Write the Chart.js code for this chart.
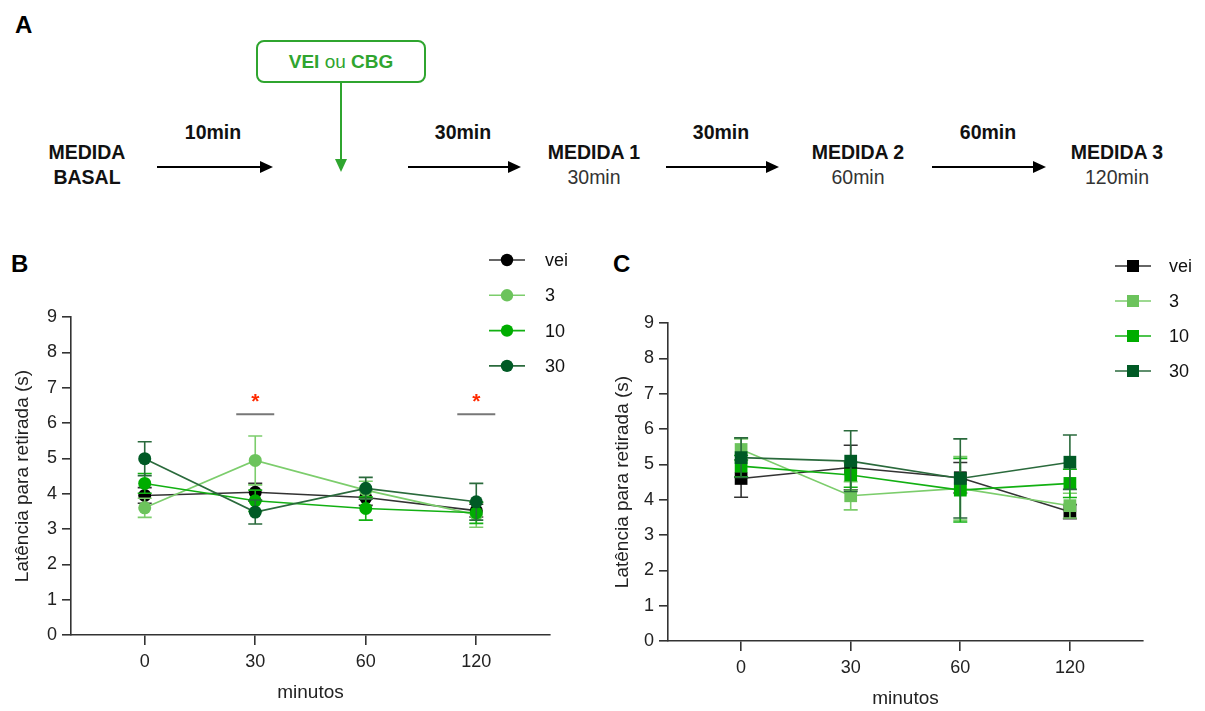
<!DOCTYPE html>
<html>
<head>
<meta charset="utf-8">
<script src="https://cdn.jsdelivr.net/npm/chart.js@4.4.0/dist/chart.umd.min.js"></script>
<style>
  body { margin: 0; background: #fff; width: 1205px; height: 711px; overflow: hidden; position: relative; font-family: "Liberation Sans", Arial, sans-serif; }
  #panelA { position: absolute; left: 0; top: 0; }
  .wrap { position: absolute; height: 471px; }
  #wrapB { left: 0; top: 240px; width: 600px; }
  #wrapC { left: 600px; top: 246px; width: 605px; }
  .letter { position: absolute; font-weight: bold; font-size: 24px; line-height: 24px; color: #000; }
</style>
</head>
<body>

<svg id="panelA" width="1205" height="230" font-family="Liberation Sans, Arial, sans-serif" font-size="19.5">
  <text x="15" y="33" font-size="24" font-weight="bold">A</text>
  <rect x="257" y="41" width="168" height="41" rx="7" fill="#fff" stroke="#2fa52f" stroke-width="2"/>
  <text x="341" y="68" text-anchor="middle" fill="#2fa52f" font-weight="bold" font-size="19">VEI <tspan font-weight="normal">ou</tspan> CBG</text>
  <line x1="341" y1="82" x2="341" y2="160" stroke="#2fa52f" stroke-width="2"/>
  <polygon points="335,159 347,159 341,172" fill="#2fa52f"/>

  <g font-weight="bold" fill="#111" text-anchor="middle">
    <text x="87" y="159">MEDIDA</text>
    <text x="87" y="184">BASAL</text>
    <text x="213" y="139">10min</text>
    <text x="463" y="139">30min</text>
    <text x="594" y="159">MEDIDA 1</text>
    <text x="721" y="139">30min</text>
    <text x="858" y="159">MEDIDA 2</text>
    <text x="988" y="139">60min</text>
    <text x="1117" y="159">MEDIDA 3</text>
  </g>
  <g fill="#333" text-anchor="middle">
    <text x="594" y="184">30min</text>
    <text x="858" y="184">60min</text>
    <text x="1117" y="184">120min</text>
  </g>
  <g stroke="#000" stroke-width="2">
    <line x1="157" y1="167" x2="262" y2="167"/>
    <line x1="408" y1="167" x2="510" y2="167"/>
    <line x1="666" y1="167" x2="768" y2="167"/>
    <line x1="932" y1="167" x2="1035" y2="167"/>
  </g>
  <g fill="#000">
    <polygon points="260,161 260,173 273,167"/>
    <polygon points="508,161 508,173 521,167"/>
    <polygon points="766,161 766,173 779,167"/>
    <polygon points="1033,161 1033,173 1046,167"/>
  </g>
</svg>

<div class="letter" style="left:11px;top:252px;">B</div>
<div class="letter" style="left:613px;top:252px;">C</div>

<div id="wrapB" class="wrap"><canvas id="chartB"></canvas></div>
<div id="wrapC" class="wrap"><canvas id="chartC"></canvas></div>

<script>
// categories (minutes after baseline)
const timeLabels = ["0", "30", "60", "120"];
const groupNames = ["vei", "3", "10", "30"];
const groupColors = ["#000000", "#6cc35c", "#00ad00", "#005a25"];
const lineColors = ["#333333", "#7ccd6c", "#12b012", "#2a6a3c"];

// Panel B - means and SEM
const bVei = [3.95, 4.04, 3.89, 3.52];
const b3 = [3.60, 4.94, 4.10, 3.40];
const b10 = [4.29, 3.80, 3.58, 3.46];
const b30 = [4.99, 3.48, 4.15, 3.77];
const bVeiErr = [0.22, 0.25, 0.22, 0.18];
const b3Err = [0.27, 0.69, 0.25, 0.35];
const b10Err = [0.28, 0.3, 0.33, 0.3];
const b30Err = [0.48, 0.34, 0.31, 0.52];

// Panel C - means and SEM
const cVei = [4.60, 4.91, 4.62, 3.66];
const c3 = [5.42, 4.11, 4.32, 3.83];
const c10 = [4.95, 4.70, 4.27, 4.46];
const c30 = [5.19, 5.09, 4.60, 5.06];
const cVeiErr = [0.53, 0.63, 0.43, 0.2];
const c3Err = [0.3, 0.4, 0.9, 0.35];
const c10Err = [0.3, 0.35, 0.9, 0.4];
const c30Err = [0.56, 0.86, 1.12, 0.77];

// significance marks in B (index of time point)
const sigPoints = [1, 3];
const sigLevel = 6.25;

const FONT = "'Liberation Sans', Arial, sans-serif";

// error bars drawn under each dataset's markers
const errorBars = {
  id: "errorBars",
  beforeDatasetDraw(chart, args) {
    const ds = chart.data.datasets[args.index];
    const { ctx, scales: { x, y } } = chart;
    ctx.save();
    ctx.strokeStyle = ds.borderColor;
    ctx.lineWidth = 1.6;
    ds.data.forEach((p, i) => {
      const px = x.getPixelForValue(p.x);
      const top = y.getPixelForValue(p.y + ds.err[i]);
      const bot = y.getPixelForValue(p.y - ds.err[i]);
      ctx.beginPath();
      ctx.moveTo(px, top);
      ctx.lineTo(px, bot);
      ctx.moveTo(px - 7, top);
      ctx.lineTo(px + 7, top);
      ctx.moveTo(px - 7, bot);
      ctx.lineTo(px + 7, bot);
      ctx.stroke();
    });
    ctx.restore();
  },
};

// legend in the top right corner, Prism style
const sideLegend = {
  id: "sideLegend",
  afterDraw(chart, args, opts) {
    const ctx = chart.ctx;
    ctx.save();
    chart.data.datasets.forEach((ds, i) => {
      const y = opts.top + i * opts.gap;
      ctx.strokeStyle = ds.borderColor;
      ctx.lineWidth = 1.6;
      ctx.beginPath();
      ctx.moveTo(opts.left, y);
      ctx.lineTo(opts.left + 36, y);
      ctx.stroke();
      ctx.fillStyle = ds.pointBackgroundColor;
      const cx = opts.left + 18;
      if (ds.pointStyle === "rect") {
        ctx.fillRect(cx - 6, y - 6, 12, 12);
      } else {
        ctx.beginPath();
        ctx.arc(cx, y, 6.2, 0, Math.PI * 2);
        ctx.fill();
      }
      ctx.fillStyle = "#111";
      ctx.font = "18px " + FONT;
      ctx.textBaseline = "middle";
      ctx.fillText(ds.label, opts.textX, y + 1);
    });
    ctx.restore();
  },
};

// significance lines with red asterisks
const sigMarks = {
  id: "sigMarks",
  afterDraw(chart, args, opts) {
    if (!opts.points) return;
    const { ctx, scales: { x, y } } = chart;
    ctx.save();
    opts.points.forEach((i) => {
      const px = x.getPixelForValue(i);
      const py = y.getPixelForValue(opts.level);
      ctx.strokeStyle = "#777";
      ctx.lineWidth = 2;
      ctx.beginPath();
      ctx.moveTo(px - 19, py);
      ctx.lineTo(px + 19, py);
      ctx.stroke();
      ctx.fillStyle = "#ff2a00";
      ctx.font = "bold 21px " + FONT;
      ctx.textAlign = "center";
      ctx.textBaseline = "middle";
      ctx.fillText("*", px, py - 12);
    });
    ctx.restore();
  },
};

function buildDatasets(series, errs, pointStyle, radius) {
  return series.map((vals, g) => ({
    label: groupNames[g],
    data: vals.map((v, i) => ({ x: i, y: v })),
    err: errs[g],
    borderColor: lineColors[g],
    backgroundColor: groupColors[g],
    pointBackgroundColor: groupColors[g],
    pointBorderColor: groupColors[g],
    pointBorderWidth: 0,
    pointStyle: pointStyle,
    pointRadius: radius,
    borderWidth: 1.6,
    tension: 0,
    order: series.length - g,
  }));
}

function makeChart(id, datasets, yWidth, rightPad, legendOpts, sigOpts) {
  return new Chart(document.getElementById(id), {
    type: "line",
    data: { datasets: datasets },
    options: {
      responsive: true,
      maintainAspectRatio: false,
      animation: false,
      layout: { padding: { top: 77, right: rightPad, left: 0, bottom: 0 } },
      plugins: {
        legend: { display: false },
        tooltip: { enabled: false },
        sideLegend: legendOpts,
        sigMarks: sigOpts,
      },
      scales: {
        x: {
          type: "linear",
          min: -0.667,
          max: 3.667,
          afterBuildTicks: (s) => {
            s.ticks = timeLabels.map((_, i) => ({ value: i }));
          },
          afterFit: (s) => {
            s.height = 76;
          },
          ticks: {
            callback: (v) => timeLabels[v],
            font: { size: 18, family: FONT },
            color: "#222",
            padding: 6,
            maxRotation: 0,
            autoSkip: false,
          },
          grid: { drawOnChartArea: false, tickLength: 10, color: "#333", lineWidth: 1.6 },
          border: { color: "#333", width: 1.6 },
          title: {
            display: true,
            text: "minutos",
            font: { size: 19, family: FONT },
            color: "#222",
            padding: { top: 0, bottom: 7 },
          },
        },
        y: {
          min: 0,
          max: 9,
          afterFit: (s) => {
            s.width = yWidth;
          },
          ticks: {
            stepSize: 1,
            font: { size: 18, family: FONT },
            color: "#222",
            padding: 5,
          },
          grid: { drawOnChartArea: false, tickLength: 9, color: "#333", lineWidth: 1.6 },
          border: { color: "#333", width: 1.6 },
          title: {
            display: true,
            text: "Latência para retirada (s)",
            font: { size: 19, family: FONT },
            color: "#222",
            padding: { top: 11, bottom: 0 },
          },
        },
      },
    },
    plugins: [errorBars, sideLegend, sigMarks],
  });
}

makeChart(
  "chartB",
  buildDatasets([bVei, b3, b10, b30], [bVeiErr, b3Err, b10Err, b30Err], "circle", 6.5),
  71,
  50,
  { left: 489, top: 20, gap: 35.3, textX: 545 },
  { points: sigPoints, level: sigLevel }
);

makeChart(
  "chartC",
  buildDatasets([cVei, c3, c10, c30], [cVeiErr, c3Err, c10Err, c30Err], "rect", 9),
  68,
  62,
  { left: 515, top: 20, gap: 35, textX: 569 },
  { points: null }
);
</script>
</body>
</html>
